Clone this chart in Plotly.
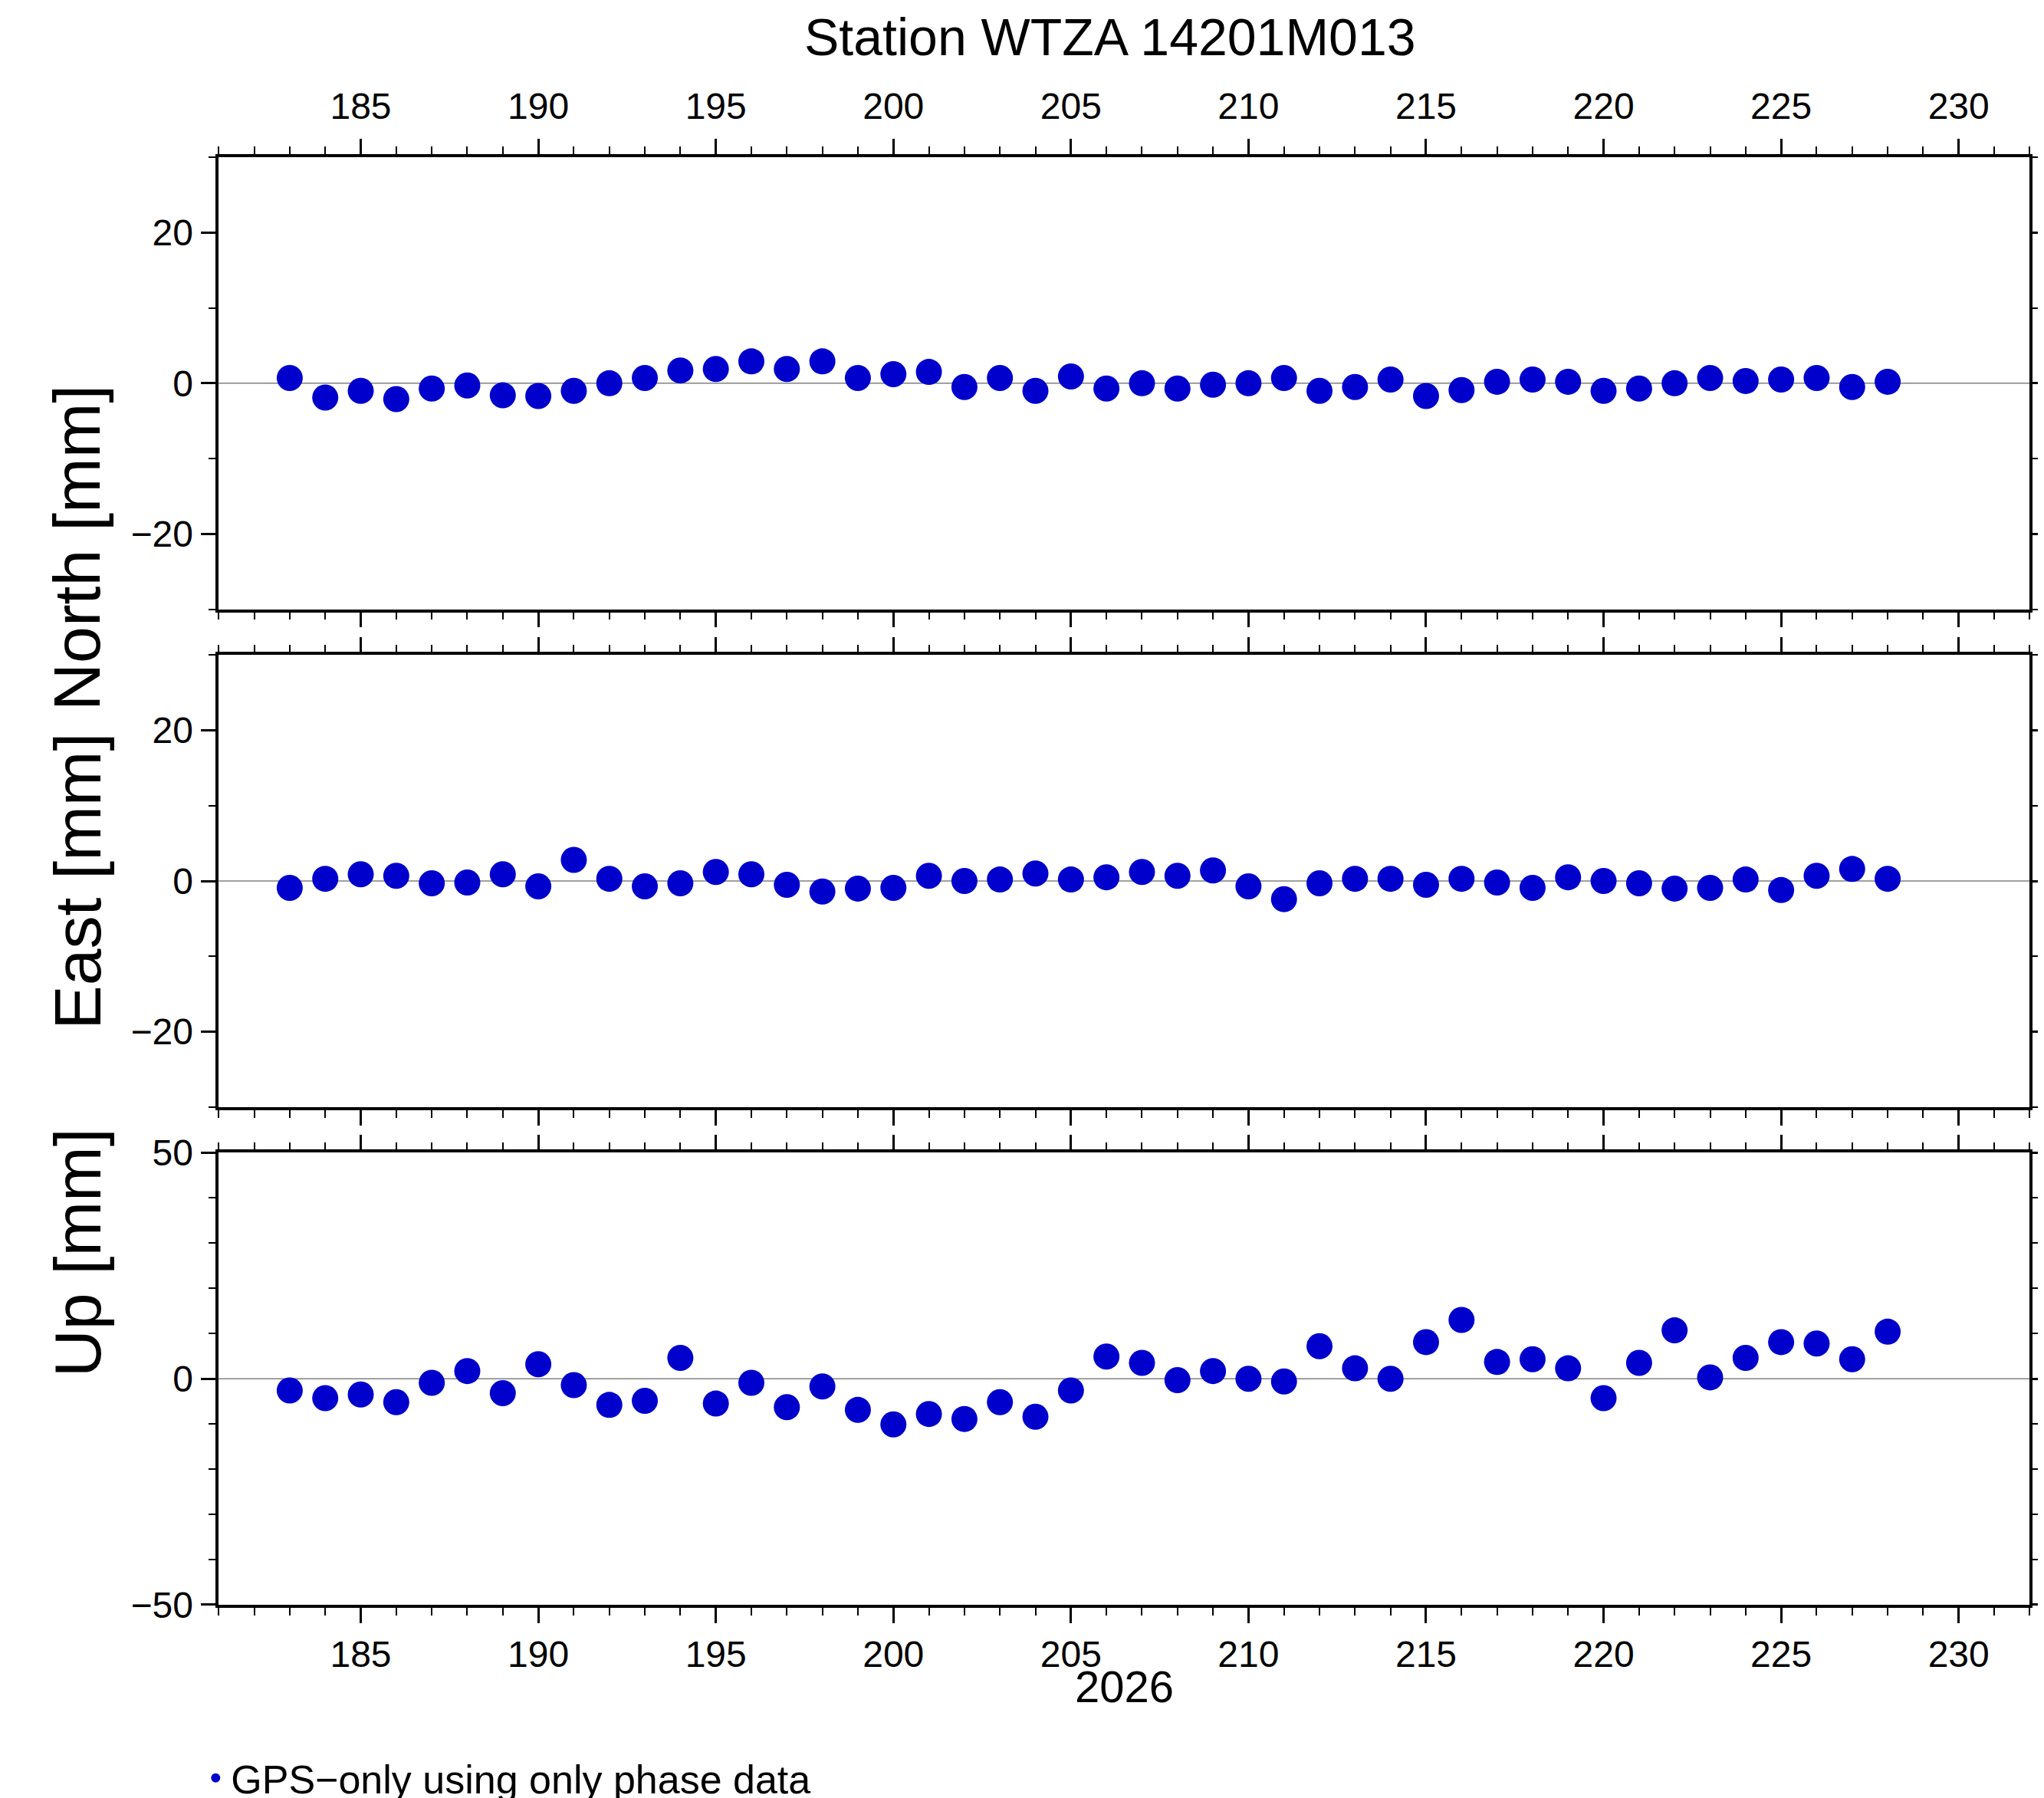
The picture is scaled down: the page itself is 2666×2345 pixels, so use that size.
import plotly.graph_objects as go

days = list(range(183, 229))
north = [0.7, -1.9, -1, -2.1, -0.7, -0.3, -1.6, -1.7, -1, 0, 0.7, 1.7, 1.9, 2.9, 1.9, 2.9,
         0.7, 1.2, 1.5, -0.5, 0.7, -1, 0.9, -0.7, 0, -0.7, -0.2, 0, 0.7, -1, -0.5, 0.5,
         -1.7, -0.9, 0.2, 0.5, 0.2, -1, -0.7, 0, 0.7, 0.3, 0.5, 0.7, -0.5, 0.2]
east = [-0.9, 0.3, 0.9, 0.7, -0.3, -0.2, 0.9, -0.7, 2.8, 0.3, -0.7, -0.3, 1.2, 0.9, -0.5, -1.4,
        -1, -0.9, 0.7, 0, 0.2, 1, 0.2, 0.5, 1.2, 0.7, 1.4, -0.7, -2.4, -0.3, 0.3, 0.3,
        -0.5, 0.3, -0.2, -0.9, 0.5, 0, -0.3, -1, -0.9, 0.2, -1.2, 0.7, 1.6, 0.3]
up = [-2.6, -4.3, -3.5, -5.2, -0.9, 1.7, -3.2, 3.2, -1.4, -5.8, -4.9, 4.6, -5.5, -0.9, -6.3, -1.7,
      -6.9, -10.1, -7.8, -8.9, -5.2, -8.4, -2.6, 4.9, 3.5, -0.3, 1.7, 0, -0.6, 7.2, 2.3, 0,
      8.1, 13, 3.7, 4.3, 2.3, -4.3, 3.5, 10.7, 0.3, 4.6, 8.1, 7.8, 4.3, 10.4]

FONT = "Liberation Sans, Arial, sans-serif"
BLUE = "#0000CC"
W, H = 2666, 2345

fig = go.Figure()
panels = [("North [mm]", north, "y", [-30, 30], 20, 10, [0.6645, 0.916]),
          ("East [mm]", east, "y2", [-30, 30], 20, 10, [0.3877, 0.6391]),
          ("Up [mm]", up, "y3", [-50, 50], 50, 10, [0.1109, 0.3623])]

axis_common = dict(showline=True, linewidth=3.5, linecolor="black", mirror="ticks",
                   ticks="outside", ticklen=20, tickwidth=2.5, tickcolor="black",
                   showgrid=False, zeroline=False, automargin=False,
                   tickfont=dict(family=FONT, size=48, color="black"))

for i, (name, vals, yref, rng, dt, mdt, dom) in enumerate(panels):
    xref = "x" if i == 0 else f"x{i+1}"
    fig.add_trace(go.Scatter(x=days, y=vals, mode="markers", xaxis=xref, yaxis=yref,
                             marker=dict(color=BLUE, size=34),
                             name="GPS\u2212only using only phase data", showlegend=(i == 0)))
    sfx = "" if i == 0 else str(i + 1)
    fig.update_layout({
        f"xaxis{sfx}": dict(axis_common, domain=[0.104, 0.99], range=[181, 232], dtick=5,
                            tick0=180, showticklabels=(i == 2), anchor=yref,
                            minor=dict(dtick=1, ticklen=10, tickwidth=2, tickcolor="black", ticks="outside"),
                            **({"matches": "x"} if i else {})),
        f"yaxis{sfx}": dict(axis_common, domain=dom, range=rng, dtick=dt, anchor=xref,
                            minor=dict(dtick=mdt, ticklen=10, tickwidth=2, tickcolor="black", ticks="outside")),
    })
    fig.add_shape(type="line", xref=f"{xref} domain", yref=yref, x0=0, x1=1, y0=0, y1=0,
                  line=dict(color="gray", width=1.5), layer="below")
    fig.add_annotation(text=name, xref="paper", yref="paper", x=0.016, y=sum(dom) / 2,
                       textangle=-90, showarrow=False,
                       font=dict(family=FONT, size=86, color="black"))

# top tick labels on the North panel
fig.add_trace(go.Scatter(x=[days[0]], y=[None], xaxis="x4", yaxis="y", showlegend=False,
                         hoverinfo="skip"))
fig.update_layout(xaxis4=dict(overlaying="x", matches="x", side="top", anchor="y",
                              range=[181, 232], dtick=5, tick0=180, showline=False,
                              ticks="outside", ticklen=30, tickcolor="rgba(0,0,0,0)",
                              showgrid=False, zeroline=False, automargin=False,
                              tickfont=dict(family=FONT, size=48, color="black")))

fig.add_annotation(text="Station WTZA 14201M013", xref="paper", yref="paper", x=0.54, y=1.0,
                   yanchor="top", showarrow=False, font=dict(family=FONT, size=68, color="black"))
fig.add_annotation(text="2026", xref="paper", yref="paper", x=0.547, y=1 - 1310 / 1380,
                   showarrow=False, font=dict(family=FONT, size=58, color="black"))

fig.update_layout(
    width=W, height=H, margin=dict(l=0, r=0, t=0, b=0, autoexpand=False),
    paper_bgcolor="white", plot_bgcolor="white",
    legend=dict(x=0.095, y=1 - 1360 / 1380, yanchor="middle", xanchor="left",
                itemsizing="constant",
                font=dict(family=FONT, size=52, color="black"), bgcolor="rgba(0,0,0,0)"),
)

fig.write_html("out.html")
